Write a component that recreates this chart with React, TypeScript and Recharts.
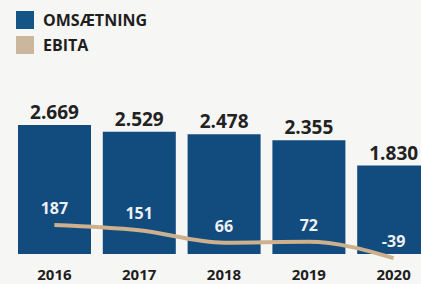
import { ComposedChart, Bar, Line, XAxis, YAxis, LabelList, Legend } from 'recharts';

const years = ['2016', '2017', '2018', '2019', '2020'];
const omsaetning = [2669, 2529, 2478, 2355, 1830];
const ebita = [187, 151, 66, 72, -39];

const data = years.map((year, i) => ({ year, omsaetning: omsaetning[i], ebita: ebita[i] }));

const BLUE = '#124b7d';
const TAN = '#cdb08e';
const FONT = '"Open Sans", sans-serif';

// dansk tusindtalsseparator
const fmt = (v: number) => {
  const s = Math.abs(v).toString().replace(/\B(?=(\d{3})+(?!\d))/g, '.');
  return v < 0 ? '-' + s : s;
};

const legendItems = [
  { label: 'OMSÆTNING', color: '#135586' },
  { label: 'EBITA', color: '#cbb79e' },
];

function LegendBox() {
  return (
    <div style={{ paddingTop: 11, paddingLeft: 16 }}>
      {legendItems.map((it) => (
        <div key={it.label} style={{ display: 'flex', alignItems: 'center', height: 18, marginBottom: 7 }}>
          <span style={{ width: 18, height: 18, background: it.color, marginRight: 9, display: 'inline-block' }} />
          <span style={{ fontFamily: FONT, fontWeight: 700, fontSize: 16, lineHeight: '18px', color: '#1e1e1e' }}>
            {it.label}
          </span>
        </div>
      ))}
    </div>
  );
}

export default function App() {
  return (
    <div
      style={{
        position: 'fixed',
        top: 0,
        left: 0,
        width: 421,
        height: 284,
        overflow: 'hidden',
        background: '#f6f6f4',
      }}
    >
      <ComposedChart
        width={445}
        height={284}
        data={data}
        margin={{ top: 109, right: 9, bottom: 0, left: 12 }}
        style={{ fontFamily: FONT }}
      >
        <XAxis
          dataKey="year"
          axisLine={false}
          tickLine={false}
          height={22}
          tick={{ fill: '#1e1e1e', fontSize: 15, fontWeight: 700, dy: -1 }}
        />
        <YAxis yAxisId="left" hide domain={[-166, 3000]} />
        <YAxis yAxisId="right" hide orientation="right" domain={[-66, 981]} />
        <Legend
          layout="vertical"
          align="center"
          verticalAlign="middle"
          wrapperStyle={{ top: 0, left: 0, width: 200 }}
          content={() => <LegendBox />}
        />
        <Bar yAxisId="left" dataKey="omsaetning" fill={BLUE} barSize={73} isAnimationActive={false}>
          <LabelList
            dataKey="omsaetning"
            position="top"
            offset={6}
            formatter={(v: number) => fmt(v)}
            style={{ fill: '#222', fontSize: 19, fontWeight: 700 }}
          />
        </Bar>
        <Line
          yAxisId="right"
          type="monotone"
          dataKey="ebita"
          stroke={TAN}
          strokeWidth={4}
          dot={false}
          isAnimationActive={false}
        >
          <LabelList
            dataKey="ebita"
            position="top"
            offset={11}
            formatter={(v: number) => fmt(v)}
            style={{ fill: '#eef1f4', fontSize: 16, fontWeight: 700 }}
          />
        </Line>
      </ComposedChart>
    </div>
  );
}
